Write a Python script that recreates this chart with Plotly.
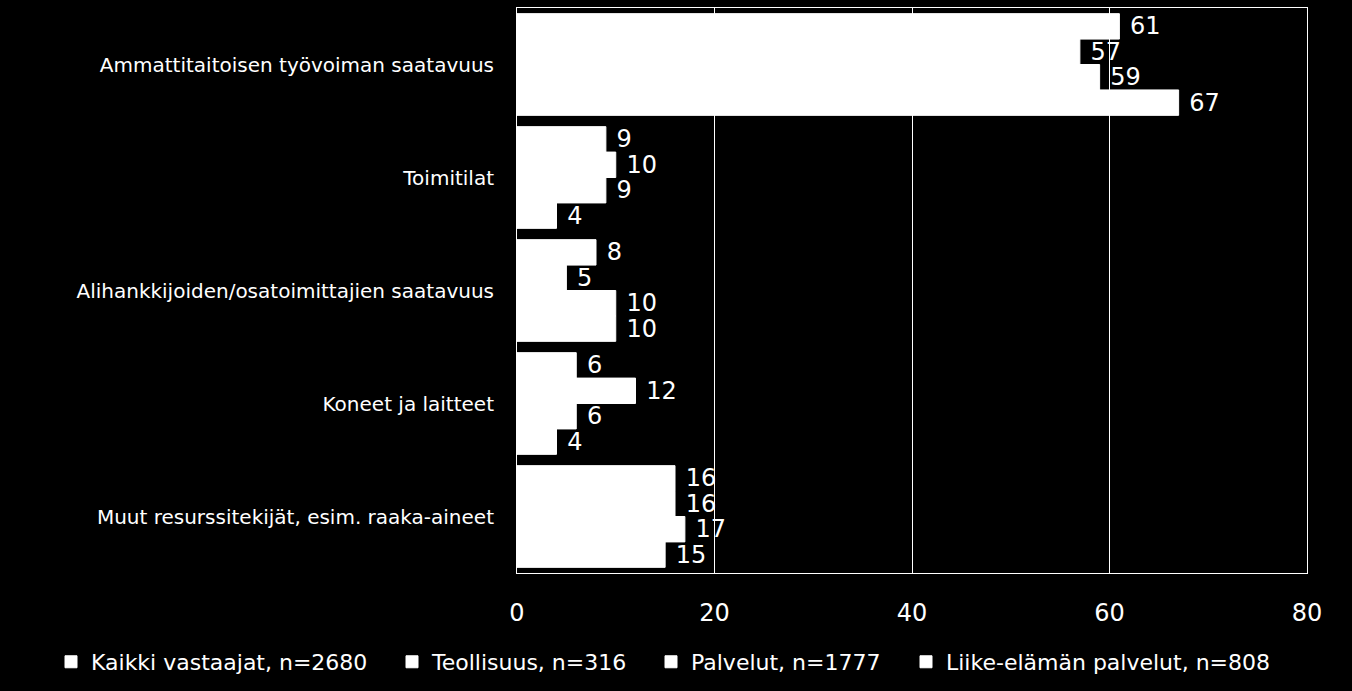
import plotly.graph_objects as go

categories = [
    "Ammattitaitoisen työvoiman saatavuus",
    "Toimitilat",
    "Alihankkijoiden/osatoimittajien saatavuus",
    "Koneet ja laitteet",
    "Muut resurssitekijät, esim. raaka-aineet",
]
series_names = [
    "Kaikki vastaajat, n=2680",
    "Teollisuus, n=316",
    "Palvelut, n=1777",
    "Liike-elämän palvelut, n=808",
]
kaikki = [61, 9, 8, 6, 16]
teollisuus = [57, 10, 5, 12, 16]
palvelut = [59, 9, 10, 6, 17]
liike = [67, 4, 10, 4, 15]
series_values = [kaikki, teollisuus, palvelut, liike]
x_ticks = [0, 20, 40, 60, 80]

font = "DejaVu Sans, Verdana, sans-serif"

# one legend per series so the row matches the original spacing
legend_ids = ["legend", "legend2", "legend3", "legend4"]
legend_x = [51, 392, 651, 906]

fig = go.Figure()
for name, vals, lid in zip(series_names, series_values, legend_ids):
    fig.add_trace(go.Bar(
        y=categories, x=vals, name=name, orientation="h", legend=lid,
        marker=dict(color="white", line=dict(color="white", width=1)),
        text=vals, texttemplate="\u00a0%{x}", textposition="outside",
        constraintext="none", cliponaxis=False,
        textfont=dict(color="white", size=24, family=font),
    ))

legends = {}
for lid, lx in zip(legend_ids, legend_x):
    legends[lid] = dict(
        orientation="h", xref="container", yref="container",
        x=lx / 1352, y=0.042, xanchor="left", yanchor="middle",
        font=dict(color="white", size=22, family=font),
        itemwidth=30, bgcolor="rgba(0,0,0,0)",
    )

fig.update_layout(
    width=1352, height=691,
    paper_bgcolor="black", plot_bgcolor="black",
    barmode="group", bargap=0.1, bargroupgap=0,
    margin=dict(l=517, r=45, t=8, b=118, autoexpand=False),
    showlegend=True,
    **legends,
)
fig.update_xaxes(
    range=[0, 80], tickvals=x_ticks, showgrid=True, gridcolor="white",
    gridwidth=1, showline=True, linecolor="white", mirror=True,
    zeroline=False, ticks="", ticklabelstandoff=18,
    tickfont=dict(color="white", size=24, family=font),
)
fig.update_yaxes(
    autorange="reversed", showline=True, linecolor="white", mirror=True,
    ticks="", ticklabelstandoff=18,
    tickfont=dict(color="white", size=20, family=font),
)

fig.write_html("out.html", config={"displayModeBar": False},
               post_script="document.body.style.margin='0';")
